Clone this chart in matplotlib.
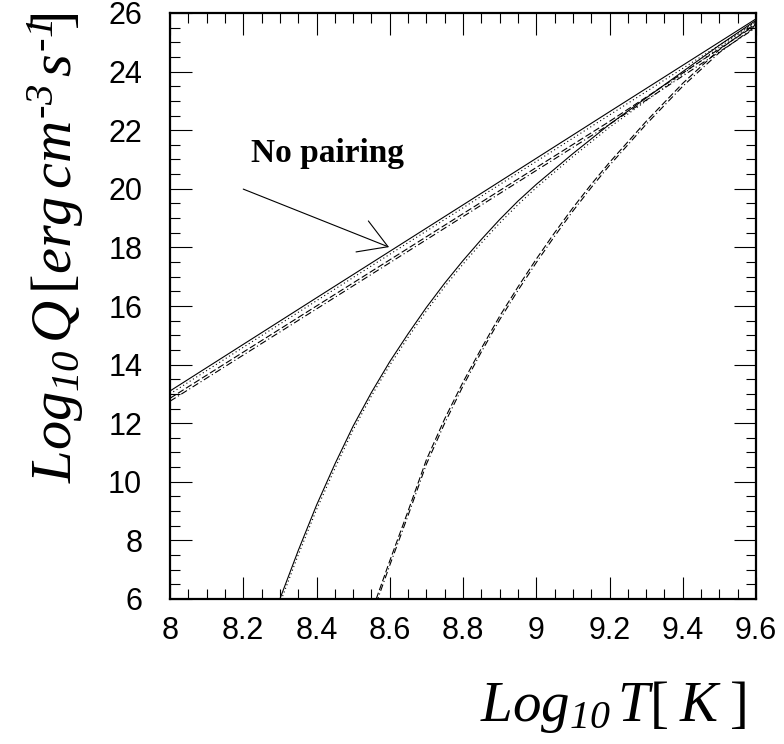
import matplotlib
matplotlib.use("Agg")
import matplotlib.pyplot as plt
from matplotlib.ticker import MultipleLocator

plt.rcParams['font.family'] = ['Liberation Sans', 'DejaVu Sans']
plt.rcParams['mathtext.fontset'] = 'custom'
plt.rcParams['mathtext.rm'] = 'Liberation Serif'
plt.rcParams['mathtext.it'] = 'Liberation Serif:italic'
# italic digits: 'it' keeps digits upright, so sf is used for them
plt.rcParams['mathtext.sf'] = 'Liberation Serif:italic'

# axis ticks
x_ticks = [8.0, 8.2, 8.4, 8.6, 8.8, 9.0, 9.2, 9.4, 9.6]
x_labels = ['8', '8.2', '8.4', '8.6', '8.8', '9', '9.2', '9.4', '9.6']
y_ticks = [6, 8, 10, 12, 14, 16, 18, 20, 22, 24, 26]

# no pairing: four almost straight lines
np_x = [8.0, 8.4, 8.8, 9.2, 9.6]
np_solid = [13.1, 16.28, 19.45, 22.63, 25.8]
np_dotted = [13.0, 16.18, 19.35, 22.52, 25.7]
np_dashed = [12.85, 16.0, 19.15, 22.3, 25.6]
np_dashdot = [12.75, 15.9, 19.05, 22.2, 25.5]

# first pairing curve (solid + dotted)
mid_x = [8.30, 8.35, 8.40, 8.45, 8.50, 8.55, 8.60, 8.65, 8.70, 8.75, 8.80, 8.85,
         8.90, 8.95, 9.00, 9.10, 9.20, 9.30, 9.40, 9.50, 9.60]
mid_solid = [6.0, 7.65, 9.2, 10.6, 11.9, 13.05, 14.1, 15.05, 15.95, 16.78, 17.55, 18.27,
             18.95, 19.58, 20.15, 21.2, 22.2, 23.1, 24.0, 24.9, 25.75]
mid_dotted = [5.85, 7.5, 9.05, 10.45, 11.77, 12.93, 13.98, 14.93, 15.83, 16.66, 17.43, 18.15,
              18.83, 19.46, 20.04, 21.1, 22.1, 23.0, 23.92, 24.83, 25.7]

# second pairing curve (dashed + dash-dot)
rt_x = [8.563, 8.60, 8.65, 8.70, 8.75, 8.80, 8.85, 8.90, 8.95, 9.00, 9.05, 9.10,
        9.15, 9.20, 9.30, 9.40, 9.50, 9.60]
rt_dashed = [6.0, 7.3, 9.0, 10.75, 12.15, 13.4, 14.55, 15.65, 16.65, 17.6, 18.5, 19.35,
             20.15, 20.9, 22.3, 23.6, 24.75, 25.65]
rt_dashdot = [5.85, 7.15, 8.85, 10.6, 12.0, 13.27, 14.43, 15.53, 16.53, 17.48, 18.38, 19.24,
              20.04, 20.8, 22.2, 23.5, 24.65, 25.55]

fig = plt.figure(figsize=(7.84, 7.44), dpi=100)
ax = fig.add_axes([170/784, 1 - 599/744, 586/784, 586/744])

lw = 0.8
dot = (0, (1, 2.5))
dash = (0, (6, 2.5))
dashdot = (0, (6, 2.5, 1, 2.5))

ax.plot(np_x, np_solid, color='black', lw=lw)
ax.plot(np_x, np_dotted, color='black', lw=lw, linestyle=dot)
ax.plot(np_x, np_dashed, color='black', lw=lw, linestyle=dash)
ax.plot(np_x, np_dashdot, color='black', lw=lw, linestyle=dashdot)

ax.plot(mid_x, mid_solid, color='black', lw=lw)
ax.plot(mid_x, mid_dotted, color='black', lw=lw, linestyle=dot)

ax.plot(rt_x, rt_dashed, color='black', lw=lw, linestyle=dash)
ax.plot(rt_x, rt_dashdot, color='black', lw=lw, linestyle=dashdot)

ax.text(8.22, 21.2, 'No pairing', family='Liberation Serif', fontweight='bold',
        fontsize=24, va='center', ha='left')
ax.annotate('', xy=(8.598, 18.01), xytext=(8.20, 19.99),
            arrowprops=dict(arrowstyle='->,head_length=1.0,head_width=0.6',
                            mutation_scale=20, color='black', lw=0.8,
                            shrinkA=0, shrinkB=0))

ax.set_xticks(x_ticks)
ax.set_xticklabels(x_labels)
ax.set_yticks(y_ticks)
ax.xaxis.set_minor_locator(MultipleLocator(0.05))
ax.yaxis.set_minor_locator(MultipleLocator(0.5))
ax.set_xlim(8, 9.6)
ax.set_ylim(6, 26)

ax.tick_params(which='both', direction='in', top=True, right=True, labelsize=22, width=0.8)
ax.tick_params(which='major', length=15.5)
ax.tick_params(which='minor', length=7.5)
ax.tick_params(axis='x', pad=12)
ax.tick_params(axis='y', pad=20)
for s in ax.spines.values():
    s.set_linewidth(1.6)

ax.set_xlabel(r'$Log_{\mathsf{10}}\,T[\;K\;]$', fontsize=41, ha='right', va='baseline')
ax.xaxis.set_label_coords(0.983, -0.208)
ax.set_ylabel(r'$Log_{\mathsf{10}}\,Q\,[erg\,cm^{\text{-}\mathsf{3}}\,s^{\text{-}\mathsf{1}}\!\!]$',
              fontsize=42, loc='top', labelpad=16)

fig.savefig('out.png', dpi=100)
